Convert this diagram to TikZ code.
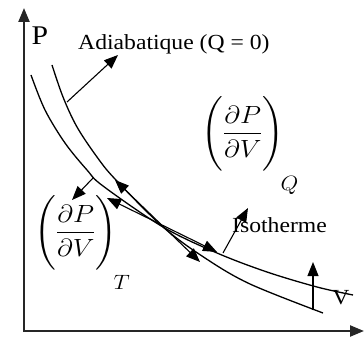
\documentclass[tikz,border=0pt]{standalone}
\usepackage{fontspec}
\setmainfont{Liberation Serif}
\usepackage{amsmath}
\usepackage{graphicx}
\usetikzlibrary{arrows.meta}
\newcommand{\wide}[1]{\scalebox{1.1}[1]{#1}}
\newcommand{\lowsub}[1]{\raisebox{-18pt}{$\scriptstyle #1$}}
\begin{document}
\begin{tikzpicture}[x=1pt,y=-1pt,
  tri/.tip={Triangle[length=14pt,width=11pt]},
  arr/.style={line width=1.1pt,-tri},
  dbl/.style={line width=1.1pt,tri-tri},
  axis/.style={line width=2.2pt,black!85,-{Triangle[length=14pt,width=11pt]}},
  curve/.style={line width=1.3pt},
  lbl/.style={font=\fontsize{21.5}{24}\selectfont,inner sep=0pt},
  frac/.style={font=\fontsize{29}{34}\selectfont,inner sep=0pt}]
\useasboundingbox (0,0) rectangle (364,339);
% axes
\coordinate (O) at (24,331);
\coordinate (Ptip) at (24,8);
\coordinate (Vtip) at (364,331);
\draw[axis] (24,332) -- (Ptip);
\draw[axis] (23,331) -- (Vtip);
% curves
\draw[curve] plot[smooth,tension=0.55] coordinates {(31,75) (45,110) (65,143) (87,170) (103,186) (163,227) (217,253) (267,272) (317,287) (353,295)};
\draw[curve] plot[smooth,tension=0.55] coordinates {(52,65) (63,97) (77,127) (97,157) (115,179) (163,227) (205,258) (250,284) (323,313)};
% labels
\node[font=\fontsize{27}{30}\selectfont,inner sep=0pt] (P) at (40,36) {\wide{P}};
\node[lbl,anchor=base west] (ad) at (78,50) {\wide{Adiabatique (Q = 0)}};
\node[lbl,anchor=base west] (iso) at (232,233) {\wide{Isotherme}};
\node[lbl] (V) at (341,298) {\wide{V}};
\node[frac,anchor=base west] (dQ) at (201,140) {\wide{$\Biggl(\dfrac{\partial P}{\partial V}\Biggr)_{\!\lowsub{Q}}$}};
\node[frac,anchor=base west] (dT) at (34,239) {\wide{$\Biggl(\dfrac{\partial P}{\partial V}\Biggr)_{\!\lowsub{T}}$}};
% connector points
\coordinate (aA) at (67,102);
\coordinate (aT) at (118,55);
\coordinate (iA) at (93,178);
\coordinate (iT) at (72,200);
\coordinate (sA) at (223,253);
\coordinate (sT) at (248,208);
\coordinate (vA) at (313,310);
\coordinate (vT) at (313,262);
\coordinate (t1a) at (115,180);
\coordinate (t1b) at (200,262);
\coordinate (t2a) at (107,198);
\coordinate (t2b) at (217,252);
\draw[arr] (aA) -- (aT);
\draw[arr] (iA) -- (iT);
\draw[arr] (sA) -- (sT);
\draw[arr] (vA) -- (vT);
\draw[dbl] (t1a) -- (t1b);
\draw[dbl] (t2a) -- (t2b);
\end{tikzpicture}
\end{document}
